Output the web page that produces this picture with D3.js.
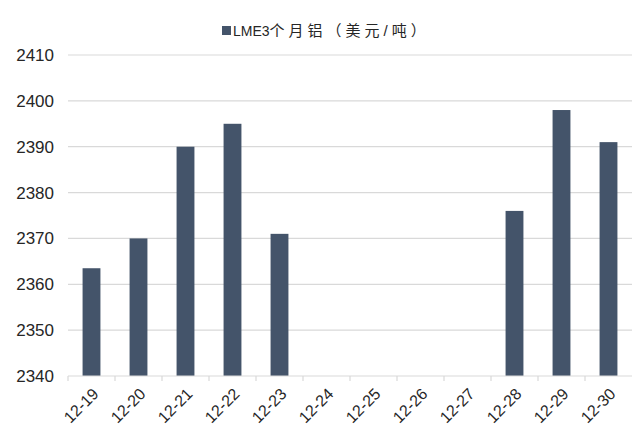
<!DOCTYPE html>
<html>
<head>
<meta charset="utf-8">
<script src="https://cdn.jsdelivr.net/npm/d3@7"></script>
<style>
  body { margin: 0; background: #fff; }
  svg { display: block; font-family: Arial, "Liberation Sans", "Noto Sans CJK SC", sans-serif; }
</style>
</head>
<body>
<svg id="chart" width="632" height="426"></svg>
<script>
var dates = ["12-19", "12-20", "12-21", "12-22", "12-23", "12-24", "12-25", "12-26", "12-27", "12-28", "12-29", "12-30"];
var prices = [2363.5, 2370, 2390, 2395, 2371, null, null, null, null, 2376, 2398, 2391];
var yTicks = [2340, 2350, 2360, 2370, 2380, 2390, 2400, 2410];
var seriesName = ["LME3", "个月铝（美元/吨）"];

var svg = d3.select("#chart"),
    width = +svg.attr("width"),
    height = +svg.attr("height");

var margin = {top: 55, right: 0, bottom: 50, left: 68};

var x = d3.scaleBand()
    .domain(dates)
    .range([margin.left, width - margin.right])
    .paddingInner(0.62)
    .paddingOuter(0.31);

var y = d3.scaleLinear()
    .domain([2340, 2410])
    .range([376, margin.top]);

// grid
svg.append("g")
    .selectAll("line")
    .data(yTicks.slice(1))
    .enter().append("line")
    .attr("x1", margin.left)
    .attr("x2", width)
    .attr("y1", function(d) { return y(d); })
    .attr("y2", function(d) { return y(d); })
    .attr("stroke", "#d9d9d9")
    .attr("stroke-width", 1.2);

// y labels
svg.append("g")
    .selectAll("text")
    .data(yTicks)
    .enter().append("text")
    .attr("x", 54)
    .attr("y", function(d) { return y(d); })
    .attr("dy", "0.35em")
    .attr("text-anchor", "end")
    .attr("font-size", 17)
    .attr("fill", "#262626")
    .text(function(d) { return d; });

// bars
svg.append("g")
    .selectAll("rect")
    .data(dates.map(function(d, i) { return {date: d, value: prices[i]}; }).filter(function(d) { return d.value != null; }))
    .enter().append("rect")
    .attr("x", function(d) { return x(d.date); })
    .attr("width", x.bandwidth())
    .attr("y", function(d) { return y(d.value); })
    .attr("height", function(d) { return y(2340) - y(d.value); })
    .attr("fill", "#44546a");

// x axis
var xAxis = svg.append("g")
    .attr("transform", "translate(0," + y(2340) + ")");
xAxis.append("line")
    .attr("x1", margin.left).attr("x2", width)
    .attr("stroke", "#d9d9d9").attr("stroke-width", 1.2);
var step = x.step();
xAxis.selectAll("line.tick")
    .data(dates)
    .enter().append("line")
    .attr("class", "tick")
    .attr("x1", function(d) { return x(d) + x.bandwidth() / 2 - step / 2; })
    .attr("x2", function(d) { return x(d) + x.bandwidth() / 2 - step / 2; })
    .attr("y1", 0).attr("y2", 5)
    .attr("stroke", "#d9d9d9").attr("stroke-width", 1.2);
xAxis.selectAll("text")
    .data(dates)
    .enter().append("text")
    .attr("transform", function(d) { return "translate(" + (x(d) + x.bandwidth() / 2 + 4) + ",15) rotate(-45)"; })
    .attr("text-anchor", "end")
    .attr("dy", "0.35em")
    .attr("font-size", 16)
    .attr("fill", "#262626")
    .text(function(d) { return d; });

// legend
var legend = svg.append("g").attr("transform", "translate(222,30)");
legend.append("rect")
    .attr("x", 0).attr("y", -4)
    .attr("width", 9).attr("height", 9)
    .attr("fill", "#44546a");
var lt = legend.append("text")
    .attr("x", 11)
    .attr("dy", "0.35em")
    .attr("fill", "#262626");
lt.append("tspan").attr("font-size", 14).text(seriesName[0]);
lt.append("tspan").attr("font-size", 15).attr("letter-spacing", 4).text(seriesName[1]);
</script>
</body>
</html>
